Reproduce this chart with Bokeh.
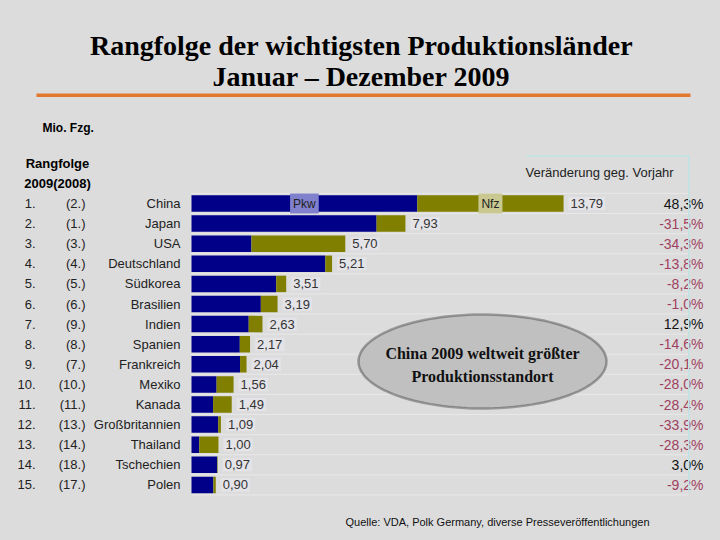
import numpy as np
from bokeh.plotting import figure
from bokeh.models import Range1d, Label, BoxAnnotation, PolyAnnotation, ColumnDataSource
from bokeh.core.properties import value
from bokeh.embed import file_html
from bokeh.resources import INLINE

# ---------------- data ----------------
countries = ["China", "Japan", "USA", "Deutschland", "Südkorea", "Brasilien", "Indien",
             "Spanien", "Frankreich", "Mexiko", "Kanada", "Großbritannien", "Thailand",
             "Tschechien", "Polen"]
rank_2009 = list(range(1, 16))
rank_2008 = [2, 1, 3, 4, 5, 6, 9, 8, 7, 10, 11, 13, 14, 18, 17]
pkw = [8.37, 6.86, 2.22, 4.96, 3.14, 2.57, 2.12, 1.79, 1.80, 0.93, 0.80, 0.99, 0.29, 0.95, 0.81]
nfz = [5.42, 1.07, 3.48, 0.25, 0.37, 0.62, 0.51, 0.38, 0.24, 0.63, 0.69, 0.10, 0.71, 0.02, 0.09]
total = [13.79, 7.93, 5.70, 5.21, 3.51, 3.19, 2.63, 2.17, 2.04, 1.56, 1.49, 1.09, 1.00, 0.97, 0.90]
change_pct = [48.3, -31.5, -34.3, -13.8, -8.2, -1.0, 12.9, -14.6, -20.1, -28.0, -28.4,
              -33.9, -28.3, 3.0, -9.2]

# ---------------- layout constants ----------------
W, H = 720, 540
PX_PER_UNIT = 26.98      # pixels per Mio. Fzg.
BAR_LEFT = 191           # pixel of value 0
ROW_PITCH = 20.1
ROW1_Y = 203             # pixel (from top) of row 1 centre
BG = "#dcdcdc"
NAVY = "#000088"
OLIVE = "#807f00"
SANS = "Liberation Sans"
SERIF = "Liberation Serif"

def sy(y_ref):  # page y (from top) -> bokeh screen y (from bottom)
    return H - y_ref

def sx(x_ref):
    return x_ref

x_range = Range1d(start=-BAR_LEFT / PX_PER_UNIT, end=(W - BAR_LEFT) / PX_PER_UNIT)
y_range = Range1d(start=1 + (H - ROW1_Y) / ROW_PITCH, end=1 - ROW1_Y / ROW_PITCH)

p = figure(width=W, height=H, x_range=x_range, y_range=y_range,
           output_backend="svg", toolbar_location=None,
           x_axis_location=None, y_axis_location=None,
           min_border=0, min_border_left=0, min_border_right=0,
           min_border_top=0, min_border_bottom=0)
p.grid.visible = False
p.outline_line_color = None
p.background_fill_color = BG
p.border_fill_color = BG

src = ColumnDataSource(dict(
    rank=rank_2009,
    country=countries,
    prev=[f"({r}.)" for r in rank_2008],
    rk=[f"{r}." for r in rank_2009],
    pkw=pkw,
    tot=[a + b for a, b in zip(pkw, nfz)],
    total_lbl=[f"{t:.2f}".replace(".", ",") for t in total],
    total=total,
    pct=[f"{c:.1f}".replace(".", ",") + "%" for c in change_pct],
    pct_color=["#111111" if c >= 0 else "#a04060" for c in change_pct],
    zero=[0] * len(countries),
))

# row separators
right_val = (688 - BAR_LEFT) / PX_PER_UNIT
sep_y = [r + 0.5 for r in [0] + rank_2009]
p.segment(x0=0, x1=right_val, y0=sep_y, y1=sep_y, line_color="#e8e8e8", line_width=1)

# bars
p.hbar(y="rank", left=0, right="pkw", height=0.82, source=src,
       fill_color=NAVY, line_color=None)
p.hbar(y="rank", left="pkw", right="tot", height=0.82, source=src,
       fill_color=OLIVE, line_color=None)

# value labels
p.text(x="total", y="rank", text="total_lbl", source=src, x_offset=5,
       text_align="left", text_baseline="middle", text_font=value(SANS),
       text_font_size="13px", text_color="#333333",
       background_fill_color="#e4e4e8", padding=2)

# series labels on the China bar
p.text(x=[pkw[0] / 2], y=[1], text=["Pkw"], text_align="center", text_baseline="middle",
       text_font=value(SANS), text_font_size="12px", text_color="#222222",
       background_fill_color="#8080cc", padding=3)
p.text(x=[pkw[0] + nfz[0] / 2], y=[1], text=["Nfz"], text_align="center",
       text_baseline="middle", text_font=value(SANS), text_font_size="12px",
       text_color="#222222", background_fill_color="#c8c890", padding=3)

# left columns
p.text(x="zero", y="rank", text="country", source=src, x_offset=-11, text_align="right",
       text_baseline="middle", text_font=value(SANS), text_font_size="13px",
       text_color="#222222")
p.text(x="zero", y="rank", text="prev", source=src, x_offset=-106, text_align="right",
       text_baseline="middle", text_font=value(SANS), text_font_size="13px",
       text_color="#222222")
p.text(x="zero", y="rank", text="rk", source=src, x_offset=-156, text_align="right",
       text_baseline="middle", text_font=value(SANS), text_font_size="13px",
       text_color="#222222")

# right column: change
p.text(x="zero", y="rank", text="pct", source=src, x_offset=512, text_align="right",
       text_baseline="middle", text_font=value(SANS), text_font_size="14px",
       text_color="pct_color")

# ---------------- decorations ----------------
p.add_layout(Label(x=sx(361), y=sy(45), x_units="screen", y_units="screen",
                   text="Rangfolge der wichtigsten Produktionsländer",
                   text_align="center", text_baseline="middle", text_font=SERIF,
                   text_font_style="bold", text_font_size="28px", text_color="#000000"))
p.add_layout(Label(x=sx(361), y=sy(76), x_units="screen", y_units="screen",
                   text="Januar – Dezember 2009",
                   text_align="center", text_baseline="middle", text_font=SERIF,
                   text_font_style="bold", text_font_size="28px", text_color="#000000"))
p.add_layout(BoxAnnotation(left=sx(36), right=sx(690), top=sy(93), bottom=sy(96.5),
                           left_units="screen", right_units="screen",
                           top_units="screen", bottom_units="screen",
                           fill_color="#e2782e", fill_alpha=1, line_color=None))
p.add_layout(Label(x=sx(42), y=sy(127), x_units="screen", y_units="screen",
                   text="Mio. Fzg.", text_align="left", text_baseline="middle",
                   text_font=SANS, text_font_style="bold", text_font_size="12px",
                   text_color="#000000"))
p.add_layout(Label(x=sx(57), y=sy(163), x_units="screen", y_units="screen",
                   text="Rangfolge", text_align="center", text_baseline="middle",
                   text_font=SANS, text_font_style="bold", text_font_size="13px",
                   text_color="#000000"))
p.add_layout(Label(x=sx(57), y=sy(183), x_units="screen", y_units="screen",
                   text="2009(2008)", text_align="center", text_baseline="middle",
                   text_font=SANS, text_font_style="bold", text_font_size="13px",
                   text_color="#000000"))
p.add_layout(Label(x=sx(525), y=sy(172), x_units="screen", y_units="screen",
                   text="Veränderung geg. Vorjahr", text_align="left",
                   text_baseline="middle", text_font=SANS, text_font_size="13px",
                   text_color="#222222"))
# light cyan frame lines
p.add_layout(BoxAnnotation(left=sx(525), right=sx(689), top=sy(155), bottom=sy(156.5),
                           left_units="screen", right_units="screen",
                           top_units="screen", bottom_units="screen",
                           fill_color="#bfe3e3", fill_alpha=1, line_color=None))
p.add_layout(BoxAnnotation(left=sx(687.5), right=sx(689), top=sy(155), bottom=sy(492),
                           left_units="screen", right_units="screen",
                           top_units="screen", bottom_units="screen",
                           fill_color="#bfe3e3", fill_alpha=1, line_color=None))

# callout ellipse
t = np.linspace(0, 2 * np.pi, 120)
ex = sx(482) + 124 * np.cos(t)
ey = sy(361) + 47 * np.sin(t)
p.add_layout(PolyAnnotation(xs=list(ex), ys=list(ey), xs_units="screen", ys_units="screen",
                            fill_color="#c0c0c0", fill_alpha=1,
                            line_color="#000000", line_width=2.5))
p.add_layout(Label(x=sx(482), y=sy(353), x_units="screen", y_units="screen",
                   text="China 2009 weltweit größter", text_align="center",
                   text_baseline="middle", text_font=SERIF, text_font_style="bold",
                   text_font_size="16px", text_color="#111111"))
p.add_layout(Label(x=sx(482), y=sy(376), x_units="screen", y_units="screen",
                   text="Produktionsstandort", text_align="center",
                   text_baseline="middle", text_font=SERIF, text_font_style="bold",
                   text_font_size="16px", text_color="#111111"))

p.add_layout(Label(x=sx(345), y=sy(521), x_units="screen", y_units="screen",
                   text="Quelle: VDA, Polk Germany, diverse Presseveröffentlichungen",
                   text_align="left", text_baseline="middle", text_font=SANS,
                   text_font_size="11px", text_color="#111111"))

html = file_html(p, INLINE, title="Produktionsländer 2009")
html = html.replace("<head>", "<head><style>html,body{background:#dcdcdc;}</style>", 1)
open("out.html", "w").write(html)
